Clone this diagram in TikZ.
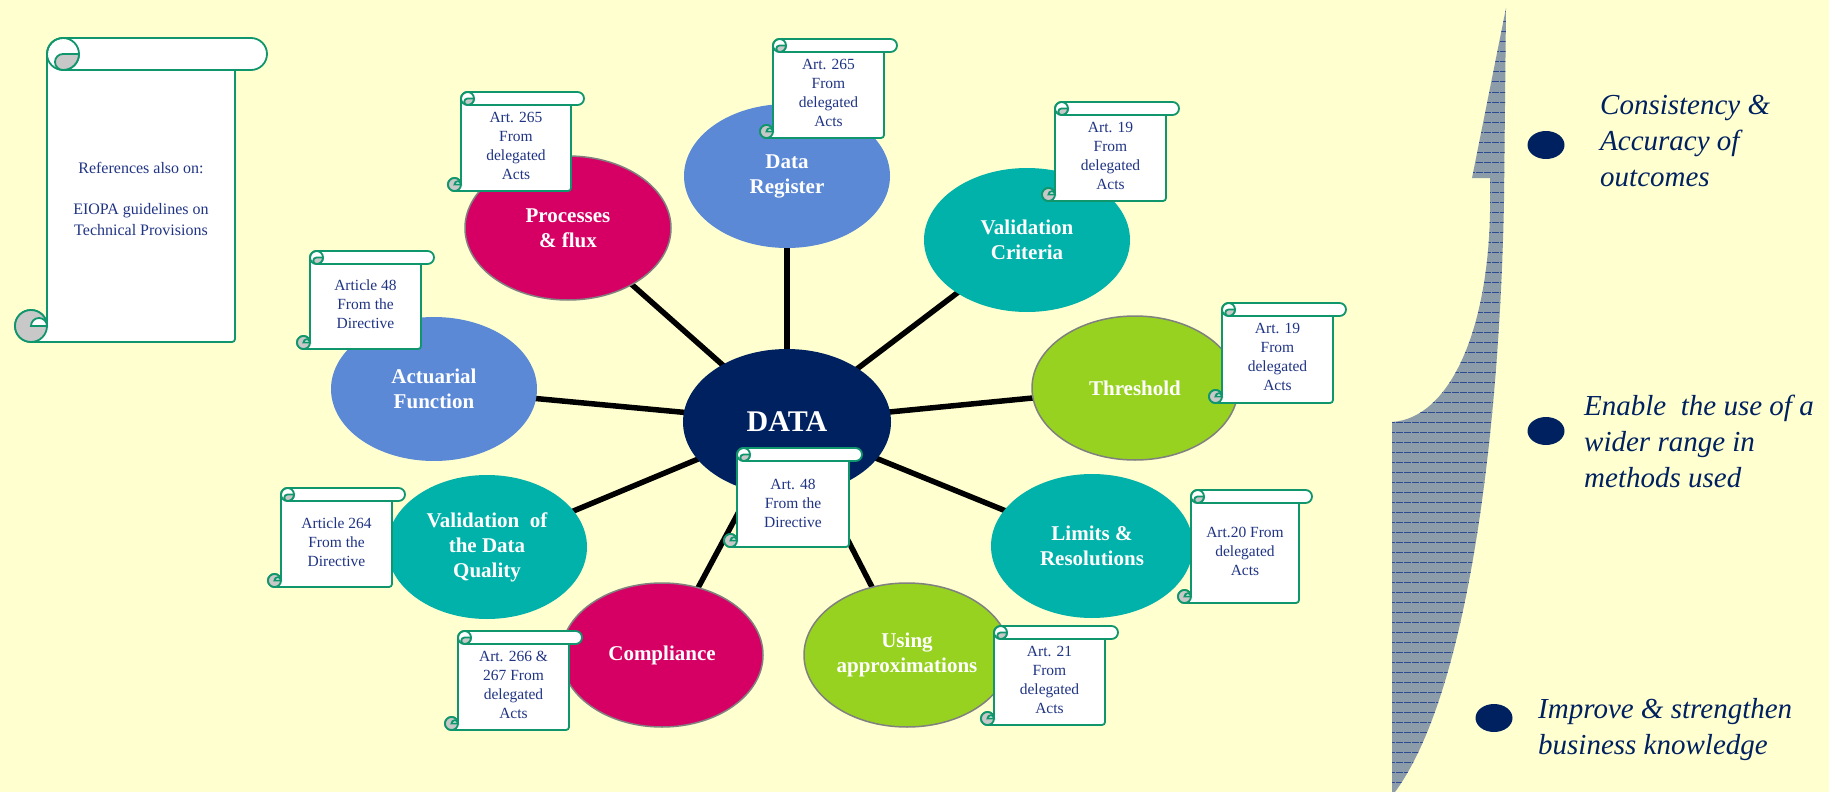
\documentclass[tikz,border=0pt]{standalone}
\usepackage{fontspec}
\setmainfont{Liberation Serif}
\usetikzlibrary{shapes.geometric}
\pgfdeclarelayer{paperlayer}
\pgfdeclarelayer{back}
\pgfsetlayers{paperlayer,back,main}

\definecolor{paper}{RGB}{255,255,208}
\definecolor{navy}{RGB}{0,33,96}
\definecolor{cornflower}{RGB}{91,137,214}
\definecolor{berry}{RGB}{214,0,100}
\definecolor{lagoon}{RGB}{0,178,169}
\definecolor{lime}{RGB}{151,210,32}
\definecolor{rimgrey}{RGB}{128,128,128}
\definecolor{scrollgreen}{RGB}{16,150,108}
\definecolor{curlgrey}{RGB}{200,200,200}
\definecolor{refblue}{RGB}{32,52,132}
\definecolor{spirefill}{RGB}{140,156,168}
\definecolor{spireline}{RGB}{45,75,145}

\tikzset{
  bubble/.style={ellipse, inner sep=0pt, minimum width=206pt, minimum height=144pt,
    text=white, font=\fontsize{21}{25}\selectfont\bfseries, align=center},
  rim/.style={draw=rimgrey, line width=1.5pt},
  spoke/.style={line width=5.5pt, black},
  scrollline/.style={draw=scrollgreen, line width=1.8pt},
  scrolltext/.style={text=refblue, font=\fontsize{15.5}{19}\selectfont, align=center, inner sep=0pt},
  goal/.style={text=navy, font=\fontsize{29}{36}\selectfont\itshape, align=left, anchor=west, inner sep=0pt},
  dot/.style={ellipse, fill=navy, minimum width=37pt, minimum height=28pt, inner sep=0pt},
}

% Scroll outline: left edge L, top T, right edge R, bottom B, roll height c
\newcommand\drawscroll[5]{%
  \pgfmathsetmacro\sL{#1}\pgfmathsetmacro\sT{#2}%
  \pgfmathsetmacro\sR{#3}\pgfmathsetmacro\sB{#4}%
  \pgfmathsetmacro\sc{#5}\pgfmathsetmacro\sh{#5/2}\pgfmathsetmacro\sq{#5/4}%
  \filldraw[scrollline, fill=white]
    ({\sL},{\sT+\sh}) arc[start angle=180, end angle=270, radius=\sh]
    -- ({\sR+\sh},{\sT}) arc[start angle=270, end angle=450, radius=\sh]
    -- ({\sR},{\sT+\sc}) -- ({\sR},{\sB-3}) arc[start angle=0, end angle=90, radius=3]
    -- ({\sL-\sh},{\sB}) arc[start angle=90, end angle=360, radius=\sh]
    -- cycle;
  \draw[scrollline] ({\sR},{\sT+\sc}) -- ({\sL+\sh},{\sT+\sc});
  \draw[scrollline] ({\sL+\sh},{\sT+\sh}) circle[radius=\sh];
  \filldraw[scrollline, fill=curlgrey]
    ({\sL+\sc},{\sT+\sh}) arc[start angle=0, end angle=90, radius=\sh]
    arc[start angle=90, end angle=270, radius=\sq] -- cycle;
  \filldraw[scrollline, fill=curlgrey] ({\sL-\sh},{\sB-\sh}) circle[radius=\sh];
  \filldraw[scrollline, fill=white]
    ({\sL-\sh},{\sB-\sh}) arc[start angle=180, end angle=360, radius=\sq] -- cycle;
}

\begin{document}
\begin{tikzpicture}[x=1pt, y=-1pt]
  \useasboundingbox (0,0) rectangle (1829,792);
  \begin{pgfonlayer}{paperlayer}
    \fill[paper] (0,0) rectangle (1829,792);
  \end{pgfonlayer}

  % central hub and its satellites
  \node[bubble, fill=navy, minimum width=208pt, minimum height=146pt,
        font=\fontsize{30}{34}\selectfont\bfseries] (data) at (787,422) {DATA};
  \node[bubble, fill=cornflower] (reg)  at (787,176) {Data\\Register};
  \node[bubble, fill=berry, rim] (proc) at (568,228) {Processes\\\& flux};
  \node[bubble, fill=lagoon]     (valc) at (1027,240) {Validation\\Criteria};
  \node[bubble, fill=cornflower] (act)  at (434,389) {Actuarial\\Function};
  \node[bubble, fill=lime, rim]  (thr)  at (1135,388) {Threshold};
  \node[bubble, fill=lagoon, minimum width=200pt] (vdq) at (487,547) {Validation\ \ of\\the Data\\Quality};
  \node[bubble, fill=lagoon, minimum width=202pt] (lim) at (1092,546) {Limits \&\\Resolutions};
  \node[bubble, fill=berry, rim, minimum width=202pt] (comp) at (662,655) {Compliance};
  \node[bubble, fill=lime, rim]  (appr) at (907,655) {Using\\approximations};

  \begin{pgfonlayer}{back}
    \foreach \n in {reg,proc,valc,act,thr,vdq,lim,comp,appr}
      \draw[spoke] (data.center) -- (\n.center);
  \end{pgfonlayer}

  % reference scrolls
  \drawscroll{773}{39}{884}{138}{13}
  \node[scrolltext] (regnote) at (828.5,92.5) {Art. 265\\From\\delegated\\Acts};
  \drawscroll{461}{92}{571}{191}{13}
  \node[scrolltext] (procnote) at (516,145.5) {Art. 265\\From\\delegated\\Acts};
  \drawscroll{1055}{102}{1166}{201}{13}
  \node[scrolltext] (valcnote) at (1110.5,156) {Art. 19\\From\\delegated\\Acts};
  \drawscroll{310}{251}{421}{349}{13}
  \node[scrolltext] (actnote) at (365.5,304) {Article 48\\From the\\Directive};
  \drawscroll{1222}{303}{1333}{403}{13}
  \node[scrolltext] (thrnote) at (1277.5,357) {Art. 19\\From\\delegated\\Acts};
  \drawscroll{737}{448}{849}{547}{13}
  \node[scrolltext] (datanote) at (793,503) {Art. 48\\From the\\Directive};
  \drawscroll{281}{488}{392}{587}{13}
  \node[scrolltext] (vdqnote) at (336.5,542) {Article 264\\From the\\Directive};
  \drawscroll{1191}{490}{1299}{603}{13}
  \node[scrolltext] (limnote) at (1245,551) {Art.20 From\\delegated\\Acts};
  \drawscroll{458}{631}{569}{730}{13}
  \node[scrolltext] (compnote) at (513.5,684.5) {Art. 266 \&\\267 From\\delegated\\Acts};
  \drawscroll{994}{626}{1105}{725}{13}
  \node[scrolltext] (apprnote) at (1049.5,680) {Art. 21\\From\\delegated\\Acts};

  % large scroll with general references
  \drawscroll{47}{38}{235}{342}{32}
  \node[scrolltext, font=\fontsize{16}{20.5}\selectfont] (eiopa) at (141,199)
    {References also on:\\[20.5pt]EIOPA guidelines on\\Technical Provisions};

  % rising spire on the right
  \def\spire{(1506,8) -- (1472,178) -- (1490,178) -- (1490,212)
    .. controls (1488,330) and (1450,418) .. (1392,422) -- (1392,792) -- (1395,792)
    .. controls (1470,690) and (1500,420) .. (1504,200) -- cycle}
  \fill[spirefill] \spire;
  \begin{scope}
    \clip \spire;
    \foreach \y in {12,22,...,792}
      \draw[spireline, line width=1pt, dash pattern=on 7pt off 1pt] (1380,\y) -- (1520,\y);
  \end{scope}

  % goals
  \node[dot] (g1) at (1546,145) {};
  \node[dot] (g2) at (1546,431) {};
  \node[dot] (g3) at (1494,718) {};
  \node[goal] (t1) at (1600,141) {Consistency \&\\Accuracy of\\outcomes};
  \node[goal] (t2) at (1584,441) {Enable\ \ the use of a\\wider range in\\methods used};
  \node[goal] (t3) at (1538,730) {Improve \& strengthen\\business knowledge};
\end{tikzpicture}
\end{document}
